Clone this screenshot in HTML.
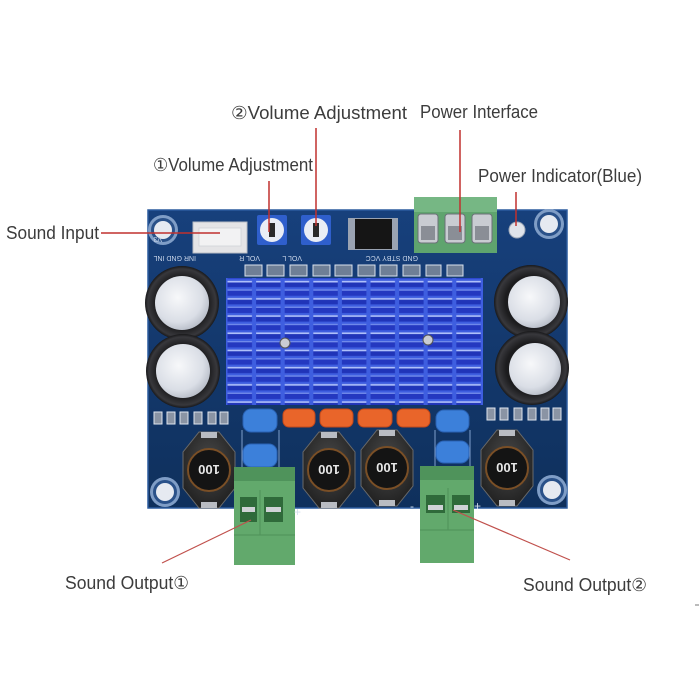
<!DOCTYPE html>
<html>
<head>
<meta charset="utf-8">
<style>
html,body{margin:0;padding:0;background:#fff;}
svg{display:block;}
.lbl{font-family:"Liberation Sans","DejaVu Sans",sans-serif;font-size:18px;fill:#3c3c3c;}
.silk{font-family:"Liberation Sans","DejaVu Sans",sans-serif;font-size:7px;fill:#c9d6ea;}
.ind{font-family:"Liberation Sans","DejaVu Sans",sans-serif;font-size:13px;font-weight:bold;fill:#e8e8e8;}
</style>
</head>
<body>
<svg width="700" height="700" viewBox="0 0 700 700" xmlns="http://www.w3.org/2000/svg">
<defs>
  <linearGradient id="bd" x1="0" y1="0" x2="0" y2="1">
    <stop offset="0" stop-color="#17407c"/>
    <stop offset="1" stop-color="#0f305c"/>
  </linearGradient>
  <radialGradient id="capTop" cx="0.42" cy="0.4" r="0.7">
    <stop offset="0" stop-color="#f7f8fa"/>
    <stop offset="0.65" stop-color="#dadee6"/>
    <stop offset="1" stop-color="#aab0bc"/>
  </radialGradient>
  <radialGradient id="capBody" cx="0.5" cy="0.5" r="0.5">
    <stop offset="0.7" stop-color="#1c1c1e"/>
    <stop offset="0.92" stop-color="#38383c"/>
    <stop offset="1" stop-color="#18181a"/>
  </radialGradient>
  <radialGradient id="indBody" cx="0.5" cy="0.4" r="0.6">
    <stop offset="0" stop-color="#4a4a4a"/>
    <stop offset="1" stop-color="#222222"/>
  </radialGradient>
  <pattern id="fins" x="226" y="280" width="28.6" height="17.2" patternUnits="userSpaceOnUse">
    <rect x="0" y="0" width="28.6" height="17.2" fill="#3e5ee0"/>
    <rect x="1.5" y="0.8" width="24.5" height="6.4" fill="#2034b8"/>
    <rect x="1.5" y="0.8" width="24.5" height="1.7" fill="#aec0fa"/>
    <rect x="1.5" y="9.4" width="24.5" height="6.4" fill="#2438c0"/>
    <rect x="1.5" y="9.4" width="24.5" height="1.3" fill="#7690ee"/>
  </pattern>
</defs>

<rect width="700" height="700" fill="#ffffff"/>

<!-- Board -->
<rect x="148" y="210" width="419" height="298" fill="url(#bd)" stroke="#2b5b9e" stroke-width="1.5"/>

<!-- Mounting holes -->
<g>
  <circle cx="163" cy="230" r="15" fill="#7f9dc6"/>
  <circle cx="163" cy="230" r="12" fill="#2a5189"/>
  <circle cx="163" cy="230" r="9" fill="#e6eaf1"/>
  <circle cx="549" cy="224" r="15" fill="#7f9dc6"/>
  <circle cx="549" cy="224" r="12" fill="#2a5189"/>
  <circle cx="549" cy="224" r="9" fill="#e6eaf1"/>
  <circle cx="165" cy="492" r="15" fill="#7f9dc6"/>
  <circle cx="165" cy="492" r="12" fill="#2a5189"/>
  <circle cx="165" cy="492" r="9" fill="#e6eaf1"/>
  <circle cx="552" cy="490" r="15" fill="#7f9dc6"/>
  <circle cx="552" cy="490" r="12" fill="#2a5189"/>
  <circle cx="552" cy="490" r="9" fill="#e6eaf1"/>
</g>

<!-- Sound input connector -->
<rect x="193" y="222" width="54" height="31" fill="#e4e4e6" stroke="#b8bcc4" stroke-width="1"/>
<rect x="199" y="228" width="42" height="18" fill="#f2f2f3" stroke="#cfd2d8" stroke-width="0.8"/>
<text class="silk" x="246" y="262" transform="rotate(180 221 259)">INR GND INL</text>
<text class="silk" x="150" y="243" transform="rotate(180 156 240)">V3</text>

<!-- Potentiometers -->
<rect x="257" y="215" width="30" height="30" rx="2" fill="#2f5fcc"/>
<circle cx="272" cy="230" r="12" fill="#e9edf5"/>
<rect x="269" y="223" width="6" height="14" fill="#2a2a2a"/>
<rect x="301" y="215" width="30" height="30" rx="2" fill="#2f5fcc"/>
<circle cx="316" cy="230" r="12" fill="#e9edf5"/>
<rect x="313" y="223" width="6" height="14" fill="#2a2a2a"/>
<text class="silk" x="288" y="262" transform="rotate(180 274 259)">VOL R</text>
<text class="silk" x="330" y="262" transform="rotate(180 316 259)">VOL L</text>

<!-- Diode / regulator -->
<rect x="348" y="218" width="50" height="32" fill="#9aa3b2"/>
<rect x="355" y="219" width="37" height="30" fill="#151515"/>

<!-- Power terminal -->
<rect x="414" y="197" width="83" height="56" fill="#5fa46e"/>
<rect x="414" y="197" width="83" height="15" fill="#76b784"/>
<g fill="#c9ccd2" stroke="#6b6f78" stroke-width="1">
  <rect x="418" y="214" width="20" height="29" rx="3"/>
  <rect x="445" y="214" width="20" height="29" rx="3"/>
  <rect x="472" y="214" width="20" height="29" rx="3"/>
</g>
<g fill="#8a8e96">
  <rect x="421" y="226" width="14" height="14"/>
  <rect x="448" y="226" width="14" height="14"/>
  <rect x="475" y="226" width="14" height="14"/>
</g>
<text class="silk" x="492" y="262" transform="rotate(180 455 259)">GND  STBY VCC</text>

<!-- Power LED -->
<circle cx="517" cy="230" r="8" fill="#dfe3ea" stroke="#9ea8b8" stroke-width="1"/>

<!-- SMD chips row above heatsink -->
<g fill="#6f7f96" stroke="#d8e0ec" stroke-width="1">
  <rect x="245" y="265" width="17" height="11"/>
  <rect x="267" y="265" width="17" height="11"/>
  <rect x="290" y="265" width="17" height="11"/>
  <rect x="313" y="265" width="17" height="11"/>
  <rect x="335" y="265" width="17" height="11"/>
  <rect x="358" y="265" width="17" height="11"/>
  <rect x="380" y="265" width="17" height="11"/>
  <rect x="403" y="265" width="17" height="11"/>
  <rect x="426" y="265" width="15" height="11"/>
  <rect x="447" y="265" width="16" height="11"/>
</g>

<!-- Heatsink -->
<rect x="226" y="278" width="257" height="127" fill="url(#fins)"/>
<circle cx="285" cy="343" r="5" fill="#c9ccd3" stroke="#555" stroke-width="1"/>
<circle cx="428" cy="340" r="5" fill="#c9ccd3" stroke="#555" stroke-width="1"/>

<!-- Electrolytic capacitors -->
<g>
  <circle cx="182" cy="303" r="37" fill="url(#capBody)"/>
  <circle cx="182" cy="303" r="27" fill="url(#capTop)"/>
  <circle cx="183" cy="371" r="37" fill="url(#capBody)"/>
  <circle cx="183" cy="371" r="27" fill="url(#capTop)"/>
  <circle cx="531" cy="302" r="37" fill="url(#capBody)"/>
  <circle cx="534" cy="302" r="26" fill="url(#capTop)"/>
  <circle cx="532" cy="368" r="37" fill="url(#capBody)"/>
  <circle cx="535" cy="369" r="26" fill="url(#capTop)"/>
</g>

<!-- Small resistors bottom-left/right -->
<g fill="#8a94a4" stroke="#dfe5ee" stroke-width="1">
  <rect x="154" y="412" width="8" height="12"/>
  <rect x="167" y="412" width="8" height="12"/>
  <rect x="180" y="412" width="8" height="12"/>
  <rect x="194" y="412" width="8" height="12"/>
  <rect x="208" y="412" width="8" height="12"/>
  <rect x="220" y="412" width="8" height="12"/>
  <rect x="487" y="408" width="8" height="12"/>
  <rect x="500" y="408" width="8" height="12"/>
  <rect x="514" y="408" width="8" height="12"/>
  <rect x="528" y="408" width="8" height="12"/>
  <rect x="541" y="408" width="8" height="12"/>
  <rect x="553" y="408" width="8" height="12"/>
</g>

<!-- silkscreen lines near blue caps -->
<g stroke="#7f9fcc" stroke-width="1" fill="none">
  <line x1="242" y1="430" x2="242" y2="470"/>
  <line x1="279" y1="430" x2="279" y2="470"/>
  <line x1="435" y1="430" x2="435" y2="468"/>
  <line x1="470" y1="430" x2="470" y2="468"/>
</g>

<!-- Blue caps -->
<g fill="#3c80da" stroke="#2a62b4" stroke-width="1">
  <rect x="243" y="409" width="34" height="23" rx="8"/>
  <rect x="243" y="444" width="34" height="23" rx="8"/>
  <rect x="436" y="410" width="33" height="22" rx="8"/>
  <rect x="436" y="441" width="33" height="22" rx="8"/>
</g>
<!-- Orange caps -->
<g fill="#e9652a" stroke="#c4491a" stroke-width="1">
  <rect x="283" y="409" width="32" height="18" rx="6"/>
  <rect x="320" y="409" width="33" height="18" rx="6"/>
  <rect x="358" y="409" width="34" height="18" rx="6"/>
  <rect x="397" y="409" width="33" height="18" rx="6"/>
</g>

<!-- Inductors -->
<g>
  <polygon points="199,432 219,432 235,452 235,488 219,508 199,508 183,488 183,452" fill="url(#indBody)" stroke="#6a6a6a" stroke-width="1"/>
  <rect x="201" y="432" width="16" height="6" fill="#b9bcc2"/>
  <rect x="201" y="502" width="16" height="6" fill="#b9bcc2"/>
  <circle cx="209" cy="470" r="21" fill="#141414" stroke="#7a4f26" stroke-width="2"/>
  <text class="ind" x="209" y="475" text-anchor="middle" transform="rotate(180 209 470)">100</text>

  <polygon points="319,432 339,432 355,452 355,488 339,508 319,508 303,488 303,452" fill="url(#indBody)" stroke="#6a6a6a" stroke-width="1"/>
  <rect x="321" y="432" width="16" height="6" fill="#b9bcc2"/>
  <rect x="321" y="502" width="16" height="6" fill="#b9bcc2"/>
  <circle cx="329" cy="470" r="21" fill="#141414" stroke="#7a4f26" stroke-width="2"/>
  <text class="ind" x="329" y="475" text-anchor="middle" transform="rotate(180 329 470)">100</text>

  <polygon points="377,430 397,430 413,450 413,486 397,506 377,506 361,486 361,450" fill="url(#indBody)" stroke="#6a6a6a" stroke-width="1"/>
  <rect x="379" y="430" width="16" height="6" fill="#b9bcc2"/>
  <rect x="379" y="500" width="16" height="6" fill="#b9bcc2"/>
  <circle cx="387" cy="468" r="21" fill="#141414" stroke="#7a4f26" stroke-width="2"/>
  <text class="ind" x="387" y="473" text-anchor="middle" transform="rotate(180 387 468)">100</text>

  <polygon points="497,430 517,430 533,450 533,486 517,506 497,506 481,486 481,450" fill="url(#indBody)" stroke="#6a6a6a" stroke-width="1"/>
  <rect x="499" y="430" width="16" height="6" fill="#b9bcc2"/>
  <rect x="499" y="500" width="16" height="6" fill="#b9bcc2"/>
  <circle cx="507" cy="468" r="21" fill="#141414" stroke="#7a4f26" stroke-width="2"/>
  <text class="ind" x="507" y="473" text-anchor="middle" transform="rotate(180 507 468)">100</text>
</g>

<!-- Output terminals -->
<g>
  <rect x="234" y="467" width="61" height="98" fill="#62a96c"/>
  <rect x="234" y="467" width="61" height="14" fill="#4f935b"/>
  <line x1="234" y1="535" x2="295" y2="535" stroke="#4f9159" stroke-width="1"/>
  <line x1="260" y1="490" x2="260" y2="535" stroke="#4f9159" stroke-width="1"/>
  <rect x="240" y="497" width="17" height="25" fill="#2f6a3a"/>
  <rect x="264" y="497" width="19" height="25" fill="#2f6a3a"/>
  <rect x="242" y="507" width="13" height="5" fill="#cfd2d6"/>
  <rect x="266" y="507" width="15" height="5" fill="#cfd2d6"/>

  <rect x="420" y="466" width="54" height="97" fill="#62a96c"/>
  <rect x="420" y="466" width="54" height="14" fill="#4f935b"/>
  <line x1="420" y1="530" x2="474" y2="530" stroke="#4f9159" stroke-width="1"/>
  <line x1="448" y1="488" x2="448" y2="530" stroke="#4f9159" stroke-width="1"/>
  <rect x="426" y="495" width="19" height="18" fill="#2f6a3a"/>
  <rect x="452" y="495" width="18" height="18" fill="#2f6a3a"/>
  <rect x="428" y="505" width="15" height="5" fill="#cfd2d6"/>
  <rect x="454" y="505" width="14" height="5" fill="#cfd2d6"/>
</g>
<g fill="#d6e0ee" font-family="Liberation Sans, sans-serif" font-size="12">
  <text x="294" y="516">+</text>
  <text x="410" y="510">-</text>
  <text x="474" y="510">+</text>
</g>

<!-- Leader lines -->
<g stroke="#c0302e" stroke-width="1.5" fill="none">
  <line x1="101" y1="233" x2="220" y2="233"/>
  <line x1="269" y1="181" x2="269" y2="232"/>
  <line x1="316" y1="128" x2="316" y2="226"/>
  <line x1="460" y1="130" x2="460" y2="232"/>
  <line x1="516" y1="192" x2="516" y2="226"/>
</g>
<g stroke="#c0504c" stroke-width="1.2" fill="none">
  <line x1="251" y1="520" x2="162" y2="563"/>
  <line x1="453" y1="510" x2="570" y2="560"/>
</g>

<!-- Labels -->
<text class="lbl" x="6" y="239" textLength="93" lengthAdjust="spacingAndGlyphs">Sound Input</text>
<text class="lbl" x="153" y="171" textLength="160" lengthAdjust="spacingAndGlyphs">①Volume Adjustment</text>
<text class="lbl" x="231" y="119" textLength="176" lengthAdjust="spacingAndGlyphs">②Volume Adjustment</text>
<text class="lbl" x="420" y="118" textLength="118" lengthAdjust="spacingAndGlyphs">Power Interface</text>
<text class="lbl" x="478" y="182" textLength="164" lengthAdjust="spacingAndGlyphs">Power Indicator(Blue)</text>
<text class="lbl" x="65" y="589" textLength="124" lengthAdjust="spacingAndGlyphs">Sound Output①</text>
<text class="lbl" x="523" y="591" textLength="124" lengthAdjust="spacingAndGlyphs">Sound Output②</text>

<line x1="695" y1="605" x2="699" y2="605" stroke="#777" stroke-width="1"/>
</svg>
</body>
</html>
